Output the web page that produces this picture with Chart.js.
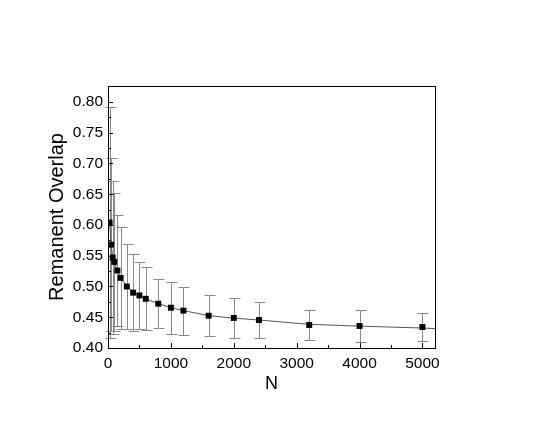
<!DOCTYPE html>
<html>
<head>
<meta charset="utf-8">
<script src="https://cdn.jsdelivr.net/npm/chart.js@4.4.1/dist/chart.umd.min.js"></script>
<style>
  html, body { margin: 0; padding: 0; background: #fff; }
  #wrap { width: 545px; height: 436px; }
</style>
</head>
<body>
<div id="wrap"><canvas id="chart" width="545" height="436"></canvas></div>
<script>
// system sizes N and the measured remanent overlap, with symmetric error bars
const sizes = [25, 50, 75, 100, 150, 200, 300, 400, 500, 600, 800, 1000, 1200, 1600, 2000, 2400, 3200, 4000, 5000];
const overlap = [0.604, 0.568, 0.547, 0.540, 0.526, 0.514, 0.500, 0.490, 0.4855, 0.480, 0.472, 0.4655, 0.4607, 0.4525, 0.4488, 0.4455, 0.4374, 0.4358, 0.4341];
const errors = [0.188, 0.141, 0.125, 0.112, 0.091, 0.083, 0.0685, 0.063, 0.0545, 0.051, 0.040, 0.042, 0.039, 0.033, 0.032, 0.029, 0.025, 0.026, 0.022];

// thin fit curve running through the points out to the right border
const fitN = [25, 50, 75, 100, 150, 200, 300, 400, 500, 600, 800, 1000, 1200, 1600, 2000, 2400, 3200, 4000, 5000, 5200];
const fitValues = [0.604, 0.568, 0.547, 0.540, 0.526, 0.514, 0.500, 0.491, 0.485, 0.480, 0.472, 0.4655, 0.4607, 0.4527, 0.4485, 0.4455, 0.4385, 0.4355, 0.4325, 0.4315];

// axis ticks
const xTicks = [0, 1000, 2000, 3000, 4000, 5000];
const xMinor = [500, 1500, 2500, 3500, 4500];
const yTicks = [0.40, 0.45, 0.50, 0.55, 0.60, 0.65, 0.70, 0.75, 0.80];
const yMinor = [0.425, 0.475, 0.525, 0.575, 0.625, 0.675, 0.725, 0.775];

const FONT = "'Liberation Sans', Arial, sans-serif";

// error bars under the markers
const errorBars = {
  id: 'errorBars',
  beforeDatasetsDraw(chart) {
    const { ctx, scales: { x, y } } = chart;
    ctx.save();
    ctx.strokeStyle = '#8a8a8a';
    ctx.lineWidth = 1;
    sizes.forEach((n, i) => {
      const px = Math.round(x.getPixelForValue(n)) + 0.5;
      const top = Math.round(y.getPixelForValue(overlap[i] + errors[i])) + 0.5;
      const bot = Math.round(y.getPixelForValue(overlap[i] - errors[i])) + 0.5;
      ctx.beginPath();
      ctx.moveTo(px, top); ctx.lineTo(px, bot);
      ctx.moveTo(px - 5, top); ctx.lineTo(px + 6, top);
      ctx.moveTo(px - 5, bot); ctx.lineTo(px + 6, bot);
      ctx.stroke();
    });
    ctx.restore();
  }
};

// box frame with inward ticks on the left and bottom axes
const frame = {
  id: 'frame',
  afterDatasetsDraw(chart) {
    const { ctx, chartArea: a, scales: { x, y } } = chart;
    ctx.save();
    ctx.strokeStyle = '#000';
    ctx.lineWidth = 1;
    ctx.strokeRect(a.left + 0.5, a.top + 0.5, a.right - a.left, a.bottom - a.top);
    ctx.beginPath();
    const yTick = (v, len) => {
      const py = Math.round(y.getPixelForValue(v)) + 0.5;
      ctx.moveTo(a.left, py); ctx.lineTo(a.left + len, py);
    };
    const xTick = (v, len) => {
      const px = Math.round(x.getPixelForValue(v)) + 0.5;
      ctx.moveTo(px, a.bottom); ctx.lineTo(px, a.bottom - len);
    };
    yTicks.forEach(v => yTick(v, 5));
    yMinor.forEach(v => yTick(v, 3));
    xTicks.forEach(v => xTick(v, 5));
    xMinor.forEach(v => xTick(v, 3));
    ctx.stroke();
    ctx.restore();
  }
};

new Chart(document.getElementById('chart'), {
  type: 'scatter',
  data: {
    datasets: [
      {
        data: sizes.map((n, i) => ({ x: n, y: overlap[i] })),
        pointStyle: 'rect',
        pointRadius: 4.2,
        backgroundColor: '#000',
        borderColor: '#000',
        borderWidth: 0,
        showLine: false
      },
      {
        data: fitN.map((n, i) => ({ x: n, y: fitValues[i] })),
        showLine: true,
        pointRadius: 0,
        borderColor: '#555',
        borderWidth: 1
      }
    ]
  },
  options: {
    responsive: false,
    animation: false,
    devicePixelRatio: 1,
    layout: { padding: { left: 0, top: 86, right: 110, bottom: 0 } },
    plugins: { legend: { display: false }, tooltip: { enabled: false } },
    scales: {
      x: {
        type: 'linear',
        min: 0,
        max: 5200,
        grid: { display: false, drawTicks: false },
        border: { display: false },
        afterBuildTicks: s => { s.ticks = xTicks.map(v => ({ value: v })); },
        afterFit: s => { s.height = 88; },
        ticks: {
          padding: 6,
          maxRotation: 0,
          color: '#000',
          font: { family: FONT, size: 15.5 },
          callback: v => String(v)
        },
        title: {
          display: true,
          text: 'N',
          color: '#000',
          font: { family: FONT, size: 18 },
          padding: { top: 0, bottom: 41 }
        }
      },
      y: {
        type: 'linear',
        min: 0.40,
        max: 0.826,
        grid: { display: false, drawTicks: false },
        border: { display: false },
        afterBuildTicks: s => { s.ticks = yTicks.map(v => ({ value: v })); },
        afterFit: s => { s.width = 108; },
        ticks: {
          padding: 5,
          color: '#000',
          font: { family: FONT, size: 15.5 },
          callback: v => v.toFixed(2)
        },
        title: {
          display: true,
          text: 'Remanent Overlap',
          color: '#000',
          font: { family: FONT, size: 20 },
          padding: { top: 45, bottom: 0 }
        }
      }
    }
  },
  plugins: [errorBars, frame]
});
</script>
</body>
</html>
